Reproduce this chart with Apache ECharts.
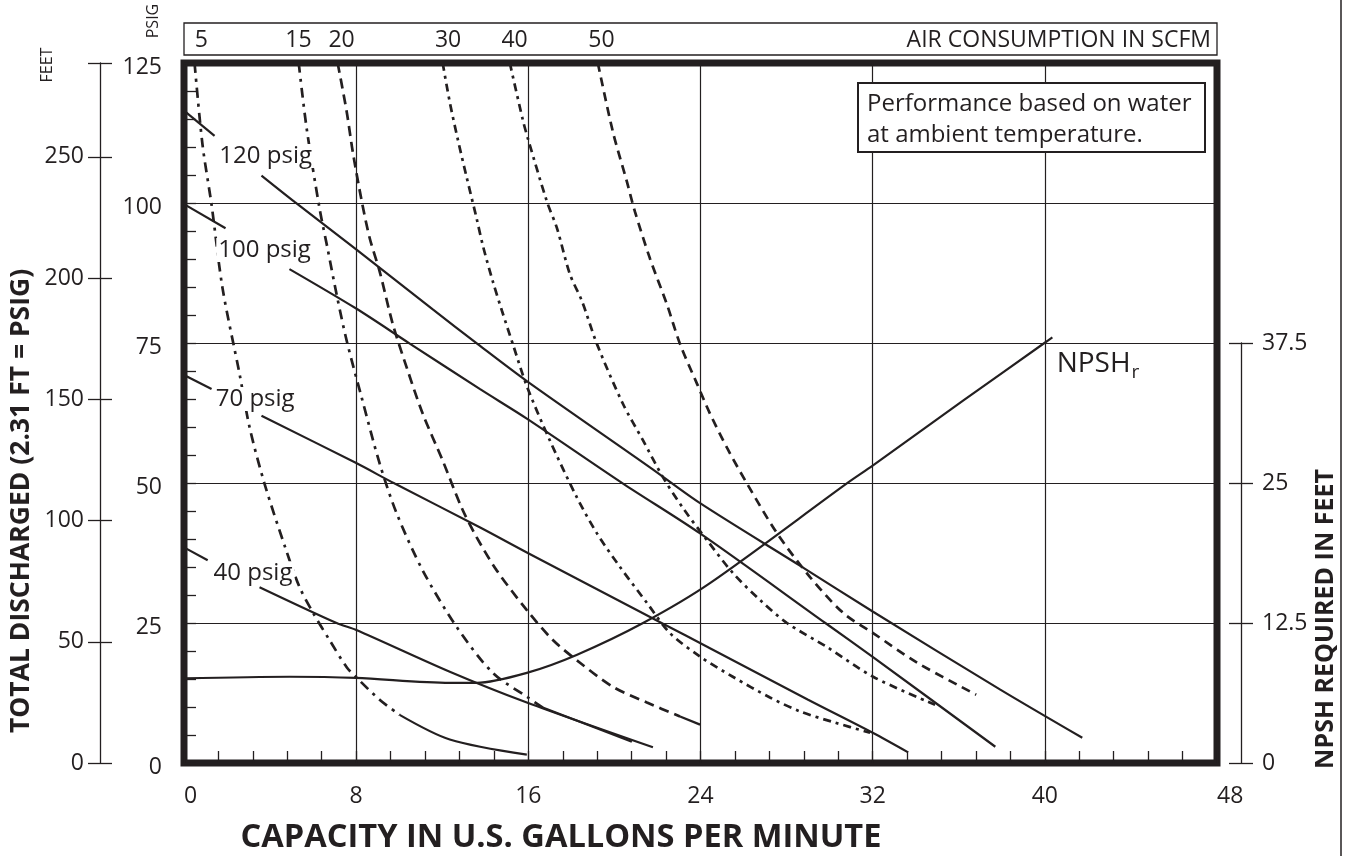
<!DOCTYPE html>
<html><head><meta charset="utf-8">
<script src="https://cdn.jsdelivr.net/npm/echarts@6/dist/echarts.min.js"></script>
<style>html,body{margin:0;padding:0;background:#fff}#c{width:1348px;height:856px}</style>
</head><body><div id="c"></div>
<script>
const INK = '#231f20';
const FF = '"Open Sans", "Noto Sans", sans-serif';

// ---- axis scales ----
const X_MAX = 48, X_STEP = 8, X_MINOR = 5;
const PSIG_MAX = 125, PSIG_STEP = 25, PSIG_MINOR = 5;
const FT_PER_PSIG = 2.31, FEET_STEP = 50;
const NPSH_MAX = 37.5, NPSH_STEP = 12.5, NPSH_FULL = 62.5;

// ---- text ----
const SCFM_LABELS = ['5', '15', '20', '30', '40', '50'];
const SCFM_LABEL_AT = [0.81, 5.32, 7.32, 12.27, 15.36, 19.4];
const PSIG_LABELS = ['120 psig', '100 psig', '70 psig', '40 psig'];
const PSIG_LABEL_AT = [[1.55, 108.4], [1.5, 91.6], [1.38, 65.0], [1.28, 33.9]];
const NPSH_LABEL_AT = [40.55, 35.65];

// ---- performance curves (gpm, psig) ----
const P120_LEAD = [[0, 116.5], [1.42, 112.0]];
const P120 = [[3.6, 104.9], [5.14, 100.2], [8.0, 91.7], [11.56, 81.0], [13.65, 74.8], [15.93, 68.2], [21.65, 52.8], [23.98, 46.4], [28.6, 35.3], [32.02, 27.0], [37.93, 13.1], [41.74, 4.5]];
const P100_LEAD = [[0, 99.8], [1.93, 95.5]];
const P100 = [[4.9, 88.2], [7.98, 81.2], [10.49, 74.9], [13.74, 66.8], [15.93, 61.5], [20.4, 49.9], [23.98, 41.0], [29.8, 25.0], [32.0, 18.95], [37.7, 2.9]];
const P70_LEAD = [[0, 69.3], [1.28, 66.8]];
const P70 = [[3.6, 62.0], [7.98, 53.6], [9.79, 49.9], [13.74, 42.1], [15.93, 37.6], [22.19, 25.0], [24.44, 20.5], [29.0, 11.3], [32.0, 5.4], [33.65, 1.9]];
const P40_LEAD = [[0, 38.5], [1.1, 36.2]];
const P40 = [[3.51, 31.4], [7.09, 25.0], [7.98, 23.8], [12.35, 16.3], [15.93, 10.8], [21.79, 2.8]];

// ---- NPSH required (gpm, feet) ----
const NPSH = [[0, 7.55], [4.9, 7.7], [7.98, 7.6], [12.35, 7.16], [13.6, 7.16], [15.93, 8.05], [18.24, 9.65], [21.33, 12.5], [24.44, 16.06], [30.8, 24.96], [32.0, 26.55], [36.2, 32.35], [39.98, 37.5], [40.35, 38.0]];

// ---- air consumption curves (gpm, psig) ----
const S5 = [[0.49, 125], [0.86, 110.4], [1.28, 99.7], [1.79, 84.8], [2.58, 69.5], [3.05, 59.9], [3.74, 49.9], [4.72, 38.3], [5.37, 31.4], [6.0, 26.8], [6.77, 21.9], [7.56, 17.1], [7.98, 15.4], [9.09, 11.3], [10.02, 8.6], [12.35, 4.2], [15.93, 1.5]];
const S15 = [[5.33, 125], [5.7, 113.3], [6.3, 99.0], [6.67, 91.9], [7.09, 83.7], [7.56, 75.4], [8.26, 65.2], [9.09, 53.5], [9.88, 44.6], [11.09, 34.4], [12.67, 24.3], [14.35, 16.1], [15.98, 11.7], [16.67, 9.9], [20.81, 3.8]];
const S20 = [[7.14, 125], [7.56, 116.3], [7.84, 109.2], [8.26, 100.3], [8.63, 93.7], [9.09, 87.8], [9.7, 78.4], [10.35, 70.6], [11.09, 62.4], [12.02, 54.0], [12.9, 45.6], [13.6, 40.3], [14.53, 34.4], [15.93, 27.3], [17.14, 21.96], [18.4, 17.9], [19.93, 13.6], [21.51, 10.8], [23.05, 8.3], [23.98, 6.85]];
const S30 = [[12.02, 125], [12.35, 118.0], [12.72, 111.4], [13.14, 104.5], [13.6, 97.2], [13.9, 92.2], [14.35, 86.0], [14.77, 80.8], [15.28, 74.8], [15.93, 67.3], [17.0, 57.6], [18.26, 47.4], [19.19, 41.0], [20.26, 35.0], [21.51, 28.6], [22.58, 23.2], [23.98, 19.0], [25.5, 15.4], [27.23, 11.7], [28.63, 9.2], [30.26, 7.2], [31.88, 5.4]];
const S40 = [[15.14, 125], [15.74, 114.9], [15.98, 111.5], [16.86, 100.3], [17.33, 95.5], [17.93, 87.3], [18.49, 82.5], [19.19, 74.8], [20.4, 64.1], [21.33, 57.6], [22.26, 51.0], [23.19, 45.5], [24.3, 39.8], [25.51, 33.9], [26.77, 29.1], [28.02, 25.0], [29.88, 20.7], [32.02, 15.4], [34.9, 10.4]];
const S50 = [[19.23, 125], [19.93, 112.7], [20.58, 103.8], [20.95, 98.5], [21.65, 90.1], [22.44, 81.9], [23.05, 74.8], [23.84, 67.7], [24.44, 62.4], [25.23, 56.3], [26.16, 49.9], [27.56, 41.0], [29.09, 33.2], [30.63, 26.8], [32.02, 23.2], [34.07, 17.9], [36.81, 12.2]];
const SCFM_CURVES = [S5, S15, S20, S30, S40, S50];
const SCFM_SOLID_FROM = [10.02, 16.67, 23.05, null, null, null];
const SCFM_DASH = [[10, 6, 3, 6], [10, 6, 3, 6], [10, 6], [8, 5, 3, 5], [8, 5, 3, 5], [9, 6]];

// ---- build series ----
const series = [];
function lineSeries(data, dash, extra) {
  return Object.assign({
    type: 'line', data: data, showSymbol: false, silent: true, smooth: 0.3,
    lineStyle: { color: INK, width: dash ? 2.7 : 2.2, type: dash || 'solid' },
    xAxisIndex: 0, yAxisIndex: 0, z: 3
  }, extra || {});
}
[P120_LEAD, P120, P100_LEAD, P100, P70_LEAD, P70, P40_LEAD, P40].forEach(d => series.push(lineSeries(d, null)));
SCFM_CURVES.forEach((d, i) => {
  const s = SCFM_SOLID_FROM[i];
  const dashed = s == null ? d : d.filter(p => p[0] <= s);
  series.push(lineSeries(dashed, SCFM_DASH[i]));
  if (s != null) series.push(lineSeries(d.filter(p => p[0] >= s), null));
});
series.push(lineSeries(NPSH, null, { xAxisIndex: 1, yAxisIndex: 3, clip: false }));

const GRID = { left: 184, top: 63, right: 131, bottom: 93 };
const plotH = 856 - GRID.top - GRID.bottom;
const npshTop = GRID.top + plotH * (1 - NPSH_MAX / NPSH_FULL);

const tickStyle = { color: INK, width: 1.3 };
const lbl = { color: INK, fontFamily: FF, fontSize: 23 };

const option = {
  backgroundColor: '#fff',
  animation: false,
  textStyle: { fontFamily: FF, color: INK },
  grid: [
    Object.assign({ show: true, borderColor: INK, borderWidth: 7, backgroundColor: 'rgba(0,0,0,0)' }, GRID),
    { left: GRID.left, right: GRID.right, bottom: GRID.bottom, top: npshTop, show: false }
  ],
  xAxis: [
    { gridIndex: 0, type: 'value', min: 0, max: X_MAX, interval: X_STEP, position: 'bottom',
      axisLine: { show: false, onZero: false },
      axisTick: { show: true, inside: true, length: 12, lineStyle: tickStyle },
      minorTick: { show: true, splitNumber: X_MINOR, length: 12, lineStyle: tickStyle },
      splitLine: { show: true, lineStyle: { color: INK, width: 1.2 } },
      axisLabel: Object.assign({ margin: 22, alignMinLabel: 'left', alignMaxLabel: 'left' }, lbl) },
    { gridIndex: 1, type: 'value', min: 0, max: X_MAX, show: false, axisLine: { onZero: false } }
  ],
  yAxis: [
    { gridIndex: 0, type: 'value', min: 0, max: PSIG_MAX, interval: PSIG_STEP, position: 'left',
      axisLine: { show: false, onZero: false },
      axisTick: { show: true, inside: true, length: 12, lineStyle: tickStyle },
      minorTick: { show: true, splitNumber: PSIG_MINOR, length: 12, lineStyle: tickStyle },
      splitLine: { show: true, lineStyle: { color: INK, width: 1.2 } },
      axisLabel: { margin: 22, formatter: v => '{a|' + v + '}',
        rich: { a: { color: INK, fontFamily: FF, fontSize: 23, padding: [9, 0, 0, 0] } } } },
    { gridIndex: 0, type: 'value', min: 0, max: PSIG_MAX * FT_PER_PSIG, interval: FEET_STEP, position: 'left', offset: 84,
      axisLine: { show: true, onZero: false, lineStyle: tickStyle },
      axisTick: { show: true, inside: false, length: 12, lineStyle: tickStyle },
      splitLine: { show: false },
      axisLabel: Object.assign({ margin: 16, showMaxLabel: true, formatter: v => (Math.abs(v % FEET_STEP) < 1e-6 ? String(v) : '') }, lbl) },
    { gridIndex: 0, type: 'value', min: 0, max: PSIG_MAX * FT_PER_PSIG, interval: FEET_STEP, position: 'left', offset: 84,
      axisLine: { show: false, onZero: false },
      axisTick: { show: true, inside: true, length: 12, lineStyle: tickStyle },
      splitLine: { show: false }, axisLabel: { show: false } },
    { gridIndex: 1, type: 'value', min: 0, max: NPSH_MAX, interval: NPSH_STEP, position: 'right', offset: 24,
      axisLine: { show: true, onZero: false, lineStyle: tickStyle },
      axisTick: { show: true, inside: false, length: 12, lineStyle: tickStyle },
      splitLine: { show: false },
      axisLabel: Object.assign({ margin: 21 }, lbl) },
    { gridIndex: 1, type: 'value', min: 0, max: NPSH_MAX, interval: NPSH_STEP, position: 'right', offset: 24,
      axisLine: { show: false, onZero: false },
      axisTick: { show: true, inside: true, length: 12, lineStyle: tickStyle },
      splitLine: { show: false }, axisLabel: { show: false } }
  ],
  series: series
};

const chart = echarts.init(document.getElementById('c'), null, { renderer: 'canvas' });
chart.setOption(option);

const px = (x, y) => chart.convertToPixel({ xAxisIndex: 0, yAxisIndex: 0 }, [x, y]);
const left = px(0, PSIG_MAX)[0], right = px(X_MAX, PSIG_MAX)[0];

function txt(text, x, y, size, opts) {
  return Object.assign({
    type: 'text', x: x, y: y, z: 100,
    style: Object.assign({ text: text, fill: INK, fontFamily: FF, fontSize: size,
      align: 'center', verticalAlign: 'middle', textAlign: 'center', textVerticalAlign: 'middle' }, (opts && opts.style) || {})
  }, (opts && opts.el) || {});
}

const g = [];
// top air consumption box
g.push({ type: 'rect', z: 90, shape: { x: left, y: 23, width: right - left, height: 32 },
  style: { fill: '#fff', stroke: INK, lineWidth: 1.3 } });
SCFM_LABELS.forEach((t, i) => g.push(txt(t, px(SCFM_LABEL_AT[i], 0)[0], 40, 23)));
g.push(txt('AIR CONSUMPTION IN SCFM', right - 6, 40, 23, { style: { align: 'right', textAlign: 'right' } }));

// note box
g.push({ type: 'rect', z: 90, shape: { x: 858, y: 83, width: 347, height: 69 },
  style: { fill: '#fff', stroke: INK, lineWidth: 2 } });
g.push(txt('Performance based on water', 867, 104, 24, { style: { align: 'left', textAlign: 'left' } }));
g.push(txt('at ambient temperature.', 867, 135, 24, { style: { align: 'left', textAlign: 'left' } }));

// pressure labels
PSIG_LABELS.forEach((t, i) => {
  const p = px(PSIG_LABEL_AT[i][0], PSIG_LABEL_AT[i][1]);
  g.push(txt(t, p[0], p[1], 24, { style: { align: 'left', textAlign: 'left', backgroundColor: '#fff', padding: [0, 2, 0, 2] } }));
});

// NPSHr label
const np = chart.convertToPixel({ xAxisIndex: 1, yAxisIndex: 3 }, NPSH_LABEL_AT);
const ctx = document.createElement('canvas').getContext('2d');
ctx.font = '28px ' + FF;
const w = ctx.measureText('NPSH').width;
g.push(txt('NPSH', np[0], np[1], 28, { style: { align: 'left', textAlign: 'left' } }));
g.push(txt('r', np[0] + w + 1, np[1] + 9, 19, { style: { align: 'left', textAlign: 'left' } }));

// axis titles
g.push(txt('CAPACITY IN U.S. GALLONS PER MINUTE', 561, 838, 32.6, { style: { fontWeight: 'bold' } }));
g.push(txt('TOTAL DISCHARGED (2.31 FT = PSIG)', 21, 501, 26.5, { style: { fontWeight: 'bold' }, el: { rotation: Math.PI / 2 } }));
g.push(txt('NPSH REQUIRED IN FEET', 1326, 619, 25, { style: { fontWeight: 'bold' }, el: { rotation: Math.PI / 2 } }));
g.push(txt('FEET', 47, 65, 16, { el: { rotation: Math.PI / 2 } }));
g.push(txt('PSIG', 153, 21, 16, { el: { rotation: Math.PI / 2 } }));

// page edge line
g.push({ type: 'line', z: 90, shape: { x1: 1341, y1: 0, x2: 1341, y2: 856 }, style: { stroke: INK, lineWidth: 1.5 } });

chart.setOption({ graphic: { elements: g } });
</script>
</body></html>
